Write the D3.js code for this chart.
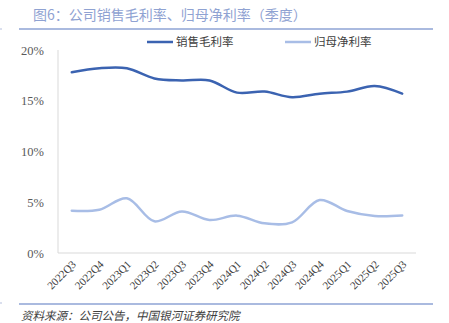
<!DOCTYPE html>
<html><head><meta charset="utf-8">
<script src="https://cdn.jsdelivr.net/npm/d3@7"></script>
<style>body{margin:0;background:#fff}svg{display:block}</style>
</head><body>
<svg id="c" width="449" height="323"></svg>
<script>
const categories = ["2022Q3","2022Q4","2023Q1","2023Q2","2023Q3","2023Q4","2024Q1","2024Q2","2024Q3","2024Q4","2025Q1","2025Q2","2025Q3"];
const grossMargin = [17.8, 18.2, 18.2, 17.2, 17.0, 17.0, 15.8, 15.9, 15.35, 15.7, 15.9, 16.45, 15.7];
const netMargin = [4.17, 4.27, 5.39, 3.12, 4.1, 3.25, 3.68, 2.92, 3.02, 5.22, 4.14, 3.65, 3.7];
const yTicks = [0, 5, 10, 15, 20];
const seriesNames = ["销售毛利率", "归母净利率"];
const colors = ["#3b63b1", "#a8bde6"];

const svg = d3.select("#c");
const font = "'Noto Sans CJK SC', 'Liberation Sans', sans-serif";
const m = {left: 58, right: 416, top: 50, bottom: 253};

const x = d3.scaleBand().domain(categories).range([m.left, m.right]);
const y = d3.scaleLinear().domain([0, 20]).range([m.bottom, m.top]);

// Title
svg.append("text").attr("x", 33).attr("y", 20).attr("font-family", font)
  .attr("font-size", 14).attr("fill", "#8fa2d2").text("图6：公司销售毛利率、归母净利率（季度）");
svg.append("line").attr("x1", 19).attr("x2", 433).attr("y1", 29).attr("y2", 29)
  .attr("stroke", "#8ea3d4").attr("stroke-width", 1.5);
svg.append("line").attr("x1", 19).attr("x2", 433).attr("y1", 304).attr("y2", 304)
  .attr("stroke", "#8ea3d4").attr("stroke-width", 1.5);
svg.append("circle").attr("cx", 1).attr("cy", 29).attr("r", 0.8).attr("fill", "#aab6d8");
svg.append("circle").attr("cx", 1).attr("cy", 303).attr("r", 0.8).attr("fill", "#aab6d8");

// Source
svg.append("text").attr("x", 21).attr("y", 320).attr("font-family", font)
  .attr("font-size", 11.5).attr("font-style", "italic").attr("fill", "#404040")
  .text("资料来源：公司公告，中国银河证券研究院");

// Axes
svg.append("line").attr("x1", m.left).attr("x2", m.left).attr("y1", m.top).attr("y2", m.bottom)
  .attr("stroke", "#d9d9d9").attr("stroke-width", 1);
svg.append("line").attr("x1", m.left).attr("x2", m.right).attr("y1", m.bottom).attr("y2", m.bottom)
  .attr("stroke", "#d9d9d9").attr("stroke-width", 1);

const yAxis = svg.append("g").attr("transform", `translate(${m.left},0)`)
  .call(d3.axisLeft(y).tickValues(yTicks).tickFormat(d => d + "%").tickSize(0).tickPadding(14));
yAxis.select(".domain").remove();
yAxis.selectAll("text").attr("font-family", "'Liberation Serif', serif").attr("font-size", 12.5).attr("fill", "#595959");

const xAxis = svg.append("g").attr("transform", `translate(0,${m.bottom})`)
  .call(d3.axisBottom(x).tickSize(0).tickPadding(0));
xAxis.select(".domain").remove();
xAxis.selectAll("text").attr("font-family", "'Liberation Serif', serif").attr("font-size", 11).attr("fill", "#404040")
  .attr("text-anchor", "end").attr("dy", 0)
  .attr("transform", "translate(5,12) rotate(-45)");

// Lines
const line = d3.line().x((d, i) => x(categories[i]) + x.bandwidth() / 2).y(d => y(d))
  .curve(d3.curveCatmullRom.alpha(0.5));
[grossMargin, netMargin].forEach((s, k) => {
  svg.append("path").datum(s).attr("d", line).attr("fill", "none")
    .attr("stroke", colors[k]).attr("stroke-width", 2.5).attr("stroke-linecap", "round");
});

// Legend
const legX = [147, 285];
seriesNames.forEach((n, k) => {
  svg.append("line").attr("x1", legX[k]).attr("x2", legX[k] + 26).attr("y1", 42).attr("y2", 42)
    .attr("stroke", colors[k]).attr("stroke-width", 2.5);
  svg.append("text").attr("x", legX[k] + 29).attr("y", 46).attr("font-family", font)
    .attr("font-size", 11.5).attr("fill", "#404040").text(n);
});
</script>
</body></html>
